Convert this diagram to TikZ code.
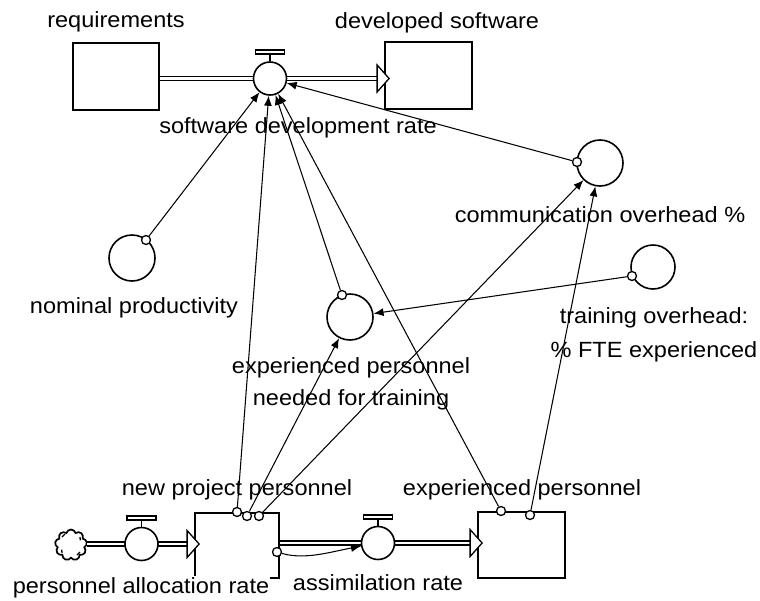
\documentclass[tikz,border=0pt]{standalone}
\usepackage{fontspec}
\setmainfont[FakeStretch=1.07]{Liberation Sans}
\usetikzlibrary{arrows.meta,shapes.symbols,calc}

\begin{document}
\begin{tikzpicture}[x=1pt,y=-1pt,
  stock/.style={draw,line width=1.8pt,minimum width=86pt,minimum height=67pt,inner sep=0},
  conv/.style={draw,circle,line width=1.6pt,minimum size=46pt,inner sep=0},
  flowv/.style={draw,circle,line width=1.6pt,minimum size=33pt,inner sep=0,fill=white},
  pipe/.style={double,line width=1.5pt,double distance=2.6pt},
  link/.style={line width=1.05pt,-{Latex[length=10pt,width=8pt]}},
  tap/.style={draw,circle,line width=1.3pt,minimum size=9pt,inner sep=0,fill=white},
  lbl/.style={anchor=base,inner sep=1pt,font=\fontsize{22}{26}\selectfont},
  inlet/.pic={\draw[line width=1.3pt,fill=white] (-7,-13.5) -- (5,0) -- (-7,13.5) -- cycle;},
  handle/.style={line width=1.6pt,fill=white},
]
\useasboundingbox (0,0) rectangle (760,600);

% stocks
\node[stock] (req) at (116,76.5) {};
\node[stock,minimum width=87pt] (dev) at (428.5,75.5) {};
\node[stock,minimum width=84pt,minimum height=65pt] (npp) at (237,545.5) {};
\node[stock,minimum width=87pt,minimum height=66pt] (ep) at (521.5,545) {};

% auxiliaries
\node[conv] (co) at (600,163) {};
\node[conv] (np) at (132,258) {};
\node[conv] (ent) at (350,317) {};
\node[conv,minimum size=44pt] (to) at (653,267) {};

% source cloud
\node[cloud,draw,cloud puffs=9,aspect=1,minimum width=32pt,minimum height=31pt,
      line width=1.7pt,inner sep=0] (src) at (71,545) {};
\draw[line width=1.3pt] (62,537) arc (200:250:5);
\draw[line width=1.3pt] (80,552) arc (20:70:5);
\draw[line width=1.3pt] (62,553) arc (150:200:4);
\draw[line width=1.3pt] (80,537) arc (-30:20:4);

% pipes
\coordinate (devin) at ($(dev.west |- 0,78.5)+(-7,0)$);
\coordinate (nppin) at ($(npp.west |- 0,544)+(-7,0)$);
\coordinate (epin) at ($(ep.west |- 0,543)+(-7,0)$);
\draw[pipe] (req.east |- 0,78.5) -- (devin);
\draw[pipe] (src.east |- 0,544) -- (nppin);
\draw[pipe] (npp.east |- 0,543) -- (epin);
\pic at ($(devin)+(7,0)$) {inlet};
\pic at ($(nppin)+(7,0)$) {inlet};
\pic at ($(epin)+(7,0)$) {inlet};

% flow valves
\node[flowv] (sdr) at (270,78.5) {};
\node[flowv] (par) at (141.5,544) {};
\node[flowv] (ar) at (378,543) {};
\foreach \v in {sdr,par,ar} {
  \draw[line width=1.6pt] (\v.north) -- ++(0,-8);
  \draw[handle] ($(\v.north)+(-14.5,-7)$) rectangle ($(\v.north)+(14.5,-11)$);
}

% labels
\node[lbl] at (116,27) {requirements};
\node[lbl] at (437,28) {developed software};
\node[lbl] at (298,133) {software development rate};
\node[lbl] at (600,222) {communication overhead \%};
\node[lbl] at (134,313) {nominal productivity};
\node[lbl] at (351,373) {experienced personnel};
\node[lbl] at (351,405) {needed for training};
\node[lbl] at (654,323) {training overhead:};
\node[lbl] at (654,357) {\% FTE experienced};
\node[lbl] at (237,495) {new project personnel};
\node[lbl] at (522,495) {experienced personnel};
\node[lbl,fill=white] at (141,593) {personnel allocation rate};
\node[lbl,fill=white] at (378,590) {assimilation rate};

% link origins
\node[tap] (t1) at (237,512) {};
\node[tap] (t2) at (247,516) {};
\node[tap] (t3) at (259,516) {};
\node[tap] (t4) at (501,511) {};
\node[tap] (t5) at (530,515) {};
\node[tap] (t6) at (146,240) {};
\node[tap] (t7) at (342,295) {};
\node[tap] (t8) at (577,162) {};
\node[tap] (t9) at (632,276) {};
\node[tap] (t10) at (277,552) {};

% information links
\draw[link] (t6) -- (sdr);
\draw[link] (t1) -- (sdr);
\draw[link] (t7) -- (sdr);
\draw[link] (t4) -- (sdr);
\draw[link] (t8) -- (sdr);
\draw[link] (t2) -- (ent);
\draw[link] (t3) -- (co);
\draw[link] (t5) -- (co);
\draw[link] (t9) -- (ent);
\draw[link] (t10) .. controls (305,560) and (330,552) .. (ar);
\end{tikzpicture}
\end{document}
